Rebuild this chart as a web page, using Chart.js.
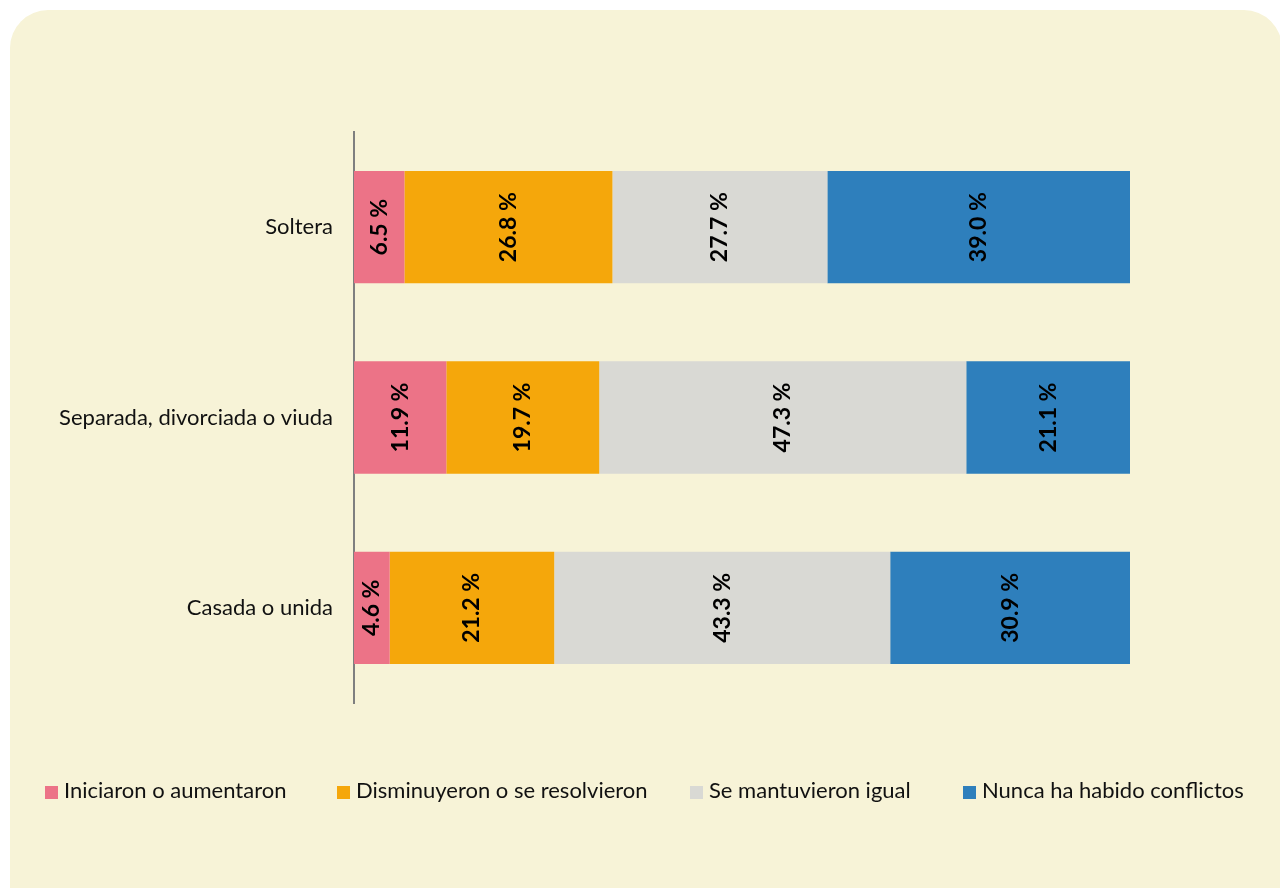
<!DOCTYPE html>
<html>
<head>
<meta charset="utf-8">
<script src="https://cdn.jsdelivr.net/npm/chart.js@4"></script>
<style>
  body { margin: 0; background: #fff; width: 1280px; height: 888px; overflow: hidden; position: relative; font-family: Lato, "Open Sans", sans-serif; }
  .panel { position: absolute; left: 10px; top: 10px; width: 1272px; height: 920px; background: #F7F3D7; border-radius: 38px; }
  #chart { position: absolute; left: 0; top: 0; }
  .legend-item { position: absolute; top: 776px; font-size: 22px; color: #111; white-space: nowrap; line-height: 28px; }
  .legend-item i { display: inline-block; width: 13px; height: 13px; margin-right: 6px; vertical-align: -1px; }
</style>
</head>
<body>
<div class="panel"></div>
<canvas id="chart" width="1280" height="888"></canvas>
<div id="legend"></div>
<script>
const categories = ['Soltera', 'Separada, divorciada o viuda', 'Casada o unida'];
const seriesNames = ['Iniciaron o aumentaron', 'Disminuyeron o se resolvieron', 'Se mantuvieron igual', 'Nunca ha habido conflictos'];
const iniciaron = [6.5, 11.9, 4.6];
const disminuyeron = [26.8, 19.7, 21.2];
const mantuvieron = [27.7, 47.3, 43.3];
const nunca = [39.0, 21.1, 30.9];
const colors = ['#EC7387', '#F5A70B', '#D9D9D4', '#2E7FBC'];
const legendLeft = [45, 337, 690, 963];

// Legend
const legend = document.getElementById('legend');
seriesNames.forEach((name, i) => {
    const item = document.createElement('div');
    item.className = 'legend-item';
    item.style.left = legendLeft[i] + 'px';
    item.innerHTML = '<i style="background:' + colors[i] + '"></i>' + name;
    legend.appendChild(item);
});

// Rotated value labels inside the bars
const barLabels = {
    id: 'barLabels',
    afterDatasetsDraw(chart) {
        const ctx = chart.ctx;
        ctx.save();
        ctx.font = 'bold 23px Lato, "Open Sans", sans-serif';
        ctx.fillStyle = '#000';
        ctx.textAlign = 'center';
        ctx.textBaseline = 'middle';
        chart.data.datasets.forEach((ds, di) => {
            chart.getDatasetMeta(di).data.forEach((bar, i) => {
                const x = (bar.x + bar.base) / 2;
                ctx.save();
                ctx.translate(x, bar.y);
                ctx.rotate(-Math.PI / 2);
                ctx.fillText(ds.data[i].toFixed(1) + ' %', 0, 0);
                ctx.restore();
            });
        });
        ctx.restore();
    }
};

const ctx = document.getElementById('chart').getContext('2d');
new Chart(ctx, {
    type: 'bar',
    data: {
        labels: categories,
        datasets: [iniciaron, disminuyeron, mantuvieron, nunca].map((d, i) => ({
            label: seriesNames[i],
            data: d,
            backgroundColor: colors[i],
            borderWidth: 0,
            categoryPercentage: 1,
            barPercentage: 0.59
        }))
    },
    options: {
        indexAxis: 'y',
        responsive: false,
        animation: false,
        layout: { padding: { top: 132, bottom: 185, right: 150, left: 0 } },
        plugins: { legend: { display: false }, tooltip: { enabled: false } },
        scales: {
            x: { stacked: true, min: 0, max: 100, display: false },
            y: {
                stacked: true,
                grid: { display: false },
                border: { display: true, color: '#7f7f7f', width: 2 },
                ticks: { color: '#111', padding: 13, font: { family: 'Lato, "Open Sans", sans-serif', size: 22 } },
                afterFit(scale) { scale.width = 354; }
            }
        }
    },
    plugins: [barLabels]
});
</script>
</body>
</html>
